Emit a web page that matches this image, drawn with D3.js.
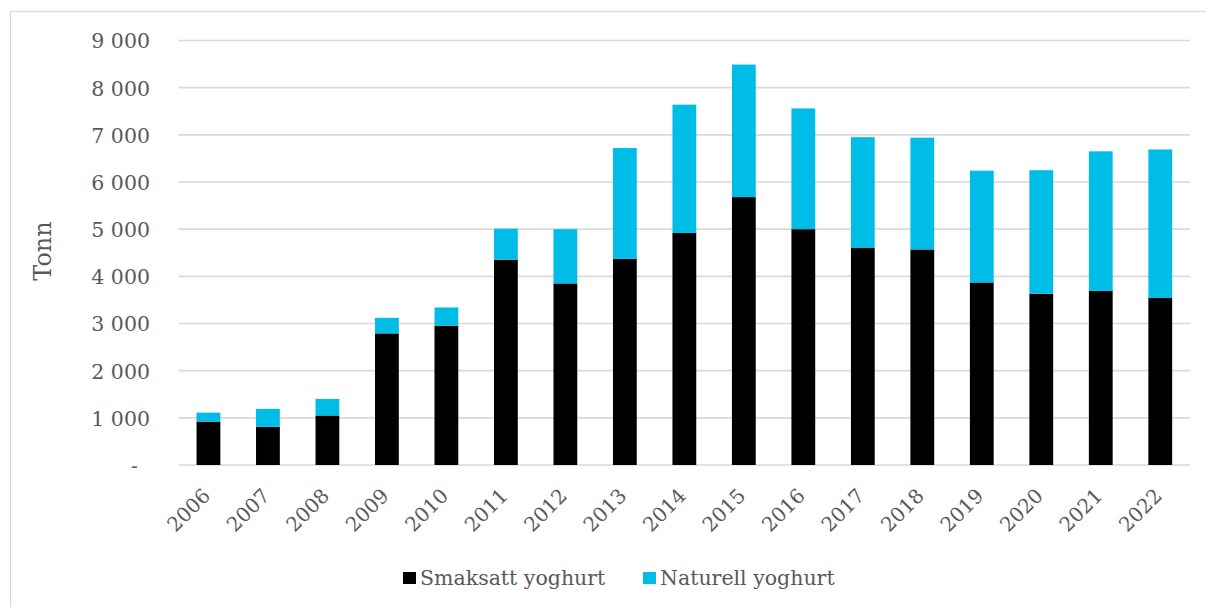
<!DOCTYPE html>
<html>
<head>
<meta charset="utf-8">
<script src="https://cdn.jsdelivr.net/npm/d3@7"></script>
<style>
  html, body { margin: 0; padding: 0; background: #fff; }
  svg { display: block; }
  text { font-family: Georgia, "DejaVu Serif", serif; fill: #595959; }
</style>
</head>
<body>
<svg id="chart" width="1206" height="607"></svg>
<script>
// Yoghurt volumes per year, tonnes
const years = ["2006","2007","2008","2009","2010","2011","2012","2013","2014","2015","2016","2017","2018","2019","2020","2021","2022"];
const smaksatt = [920, 810, 1050, 2790, 2950, 4350, 3850, 4370, 4920, 5680, 5000, 4600, 4570, 3870, 3630, 3690, 3540];
const naturell = [190, 380, 350, 330, 390, 660, 1150, 2350, 2720, 2810, 2560, 2350, 2370, 2370, 2620, 2960, 3150];
const seriesNames = ["Smaksatt yoghurt", "Naturell yoghurt"];
const seriesColors = ["#000000", "#00BDE7"];
const yTicks = [0, 1000, 2000, 3000, 4000, 5000, 6000, 7000, 8000, 9000];

const svg = d3.select("#chart");

// chart frame
svg.append("rect")
  .attr("x", 10.5).attr("y", 11.5)
  .attr("width", 1300).attr("height", 700)
  .attr("fill", "none").attr("stroke", "#D9D9D9").attr("stroke-width", 1.3);

const plot = { left: 178.7, right: 1190, top: 40.5, bottom: 465 };

const x = d3.scaleBand()
  .domain(years)
  .range([plot.left, plot.right])
  .paddingInner(0.6)
  .paddingOuter(0.3);

const y = d3.scaleLinear()
  .domain([0, 9000])
  .range([plot.bottom, plot.top]);

// gridlines
svg.append("g")
  .selectAll("line")
  .data(yTicks)
  .join("line")
  .attr("x1", plot.left).attr("x2", plot.right)
  .attr("y1", d => y(d)).attr("y2", d => y(d))
  .attr("stroke", "#D9D9D9").attr("stroke-width", 1.6);

// y axis labels: space as thousands separator, dash for zero
const fmt = d => d === 0 ? "-" : d3.format(",")(d).replace(/,/g, " ");
const yAxis = d3.axisLeft(y).tickValues(yTicks).tickSize(0).tickPadding(0).tickFormat(fmt);
const gy = svg.append("g").attr("transform", "translate(150,0)").call(yAxis);
gy.select(".domain").remove();
gy.selectAll("text")
  .attr("font-family", "Georgia, 'DejaVu Serif', serif")
  .attr("font-size", 20.5)
  .attr("fill", "#595959")
  .attr("dy", "0.36em")
  .attr("x", d => d === 0 ? -12 : 0);

// stacked bars
const table = years.map((yr, i) => ({ year: yr, s: smaksatt[i], n: naturell[i] }));
const stack = d3.stack().keys(["s", "n"]);
const layers = stack(table);

svg.append("g")
  .selectAll("g")
  .data(layers)
  .join("g")
  .attr("fill", (d, i) => seriesColors[i])
  .selectAll("rect")
  .data(d => d)
  .join("rect")
  .attr("x", d => x(d.data.year))
  .attr("width", x.bandwidth())
  .attr("y", d => y(d[1]))
  .attr("height", d => y(d[0]) - y(d[1]));

// x axis labels, rotated
const xAxis = d3.axisBottom(x).tickSize(0).tickPadding(0);
const gx = svg.append("g").attr("transform", `translate(0,${plot.bottom})`).call(xAxis);
gx.select(".domain").remove();
gx.selectAll("text")
  .attr("font-family", "Georgia, 'DejaVu Serif', serif")
  .attr("font-size", 20)
  .attr("fill", "#595959")
  .attr("text-anchor", "end")
  .attr("dy", 0)
  .attr("y", 0)
  .attr("transform", "translate(3,32) rotate(-45)");

// y axis title
svg.append("text")
  .attr("transform", "translate(51,251) rotate(-90)")
  .attr("text-anchor", "middle")
  .attr("font-size", 24)
  .text("Tonn");

// legend
const legendItems = [
  { name: seriesNames[0], color: seriesColors[0], x: 403 },
  { name: seriesNames[1], color: seriesColors[1], x: 643 }
];
const lg = svg.append("g");
lg.selectAll("rect")
  .data(legendItems)
  .join("rect")
  .attr("x", d => d.x).attr("y", 572)
  .attr("width", 13).attr("height", 12)
  .attr("fill", d => d.color);
lg.selectAll("text")
  .data(legendItems)
  .join("text")
  .attr("x", d => d.x + 17).attr("y", 585)
  .attr("font-size", 20.5)
  .text(d => d.name);
</script>
</body>
</html>
